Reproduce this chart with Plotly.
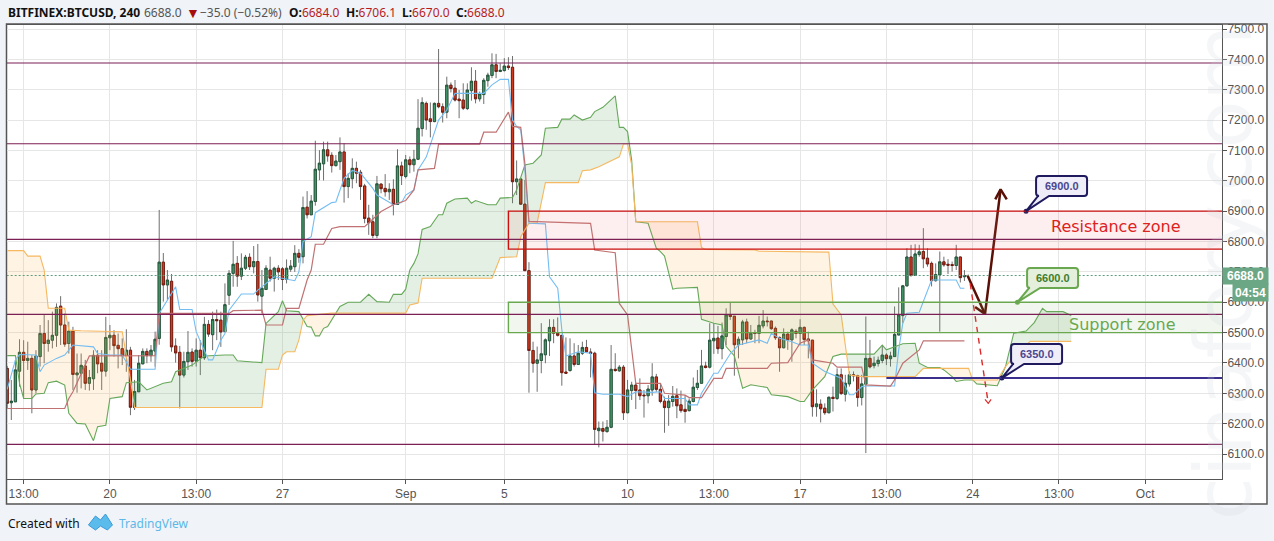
import numpy as np
import plotly.graph_objects as go

# BITFINEX:BTCUSD 4h candles
opens = [6382, 6269, 6272, 6373, 6435, 6408, 6415, 6311, 6421, 6497,
         6464, 6475, 6491, 6587, 6525, 6464, 6505, 6361, 6366, 6390,
         6333, 6348, 6425, 6399, 6373, 6483, 6491, 6458, 6447, 6424,
         6442, 6253, 6305, 6397, 6438, 6424, 6439, 6481, 6732, 6657,
         6669, 6456, 6435, 6360, 6404, 6436, 6406, 6442, 6417, 6527,
         6493, 6543, 6541, 6503, 6623, 6695, 6728, 6686, 6712, 6748,
         6717, 6734, 6620, 6642, 6706, 6679, 6712, 6710, 6675, 6709,
         6717, 6761, 6750, 6913, 6888, 6932, 7036, 7056, 7102, 7084,
         7050, 7063, 7095, 6981, 7007, 7041, 7028, 6983, 6877, 6865,
         6820, 6989, 6975, 6964, 6972, 6922, 7049, 7014, 7069, 7053,
         7071, 7172, 7255, 7204, 7195, 7255, 7244, 7226, 7315, 7305,
         7269, 7266, 7238, 7297, 7328, 7270, 7284, 7330, 7347, 7382,
         7360, 7363, 7378, 7374, 6997, 7006, 6923, 6704, 6441, 6399,
         6408, 6427, 6473, 6517, 6498, 6491, 6370, 6375, 6423, 6395,
         6432, 6451, 6436, 6432, 6177, 6184, 6174, 6188, 6379, 6374,
         6386, 6236, 6309, 6327, 6311, 6294, 6292, 6311, 6354, 6313,
         6274, 6253, 6273, 6292, 6262, 6247, 6243, 6273, 6319, 6333,
         6390, 6386, 6473, 6482, 6447, 6487, 6558, 6554, 6460, 6476,
         6535, 6479, 6499, 6497, 6522, 6538, 6538, 6514, 6484, 6450,
         6495, 6476, 6504, 6497, 6517, 6479, 6475, 6256, 6264, 6251,
         6236, 6287, 6283, 6361, 6297, 6331, 6361, 6358, 6286, 6330,
         6415, 6391, 6398, 6408, 6426, 6414, 6421, 6492, 6556, 6654,
         6749, 6688, 6757, 6767, 6745, 6728, 6671, 6690, 6733, 6725,
         6724, 6721, 6749, 6684]
highs = [6390, 6344, 6410, 6478, 6475, 6470, 6426, 6442, 6525, 6558,
         6541, 6569, 6596, 6620, 6563, 6536, 6519, 6431, 6431, 6410,
         6377, 6442, 6442, 6442, 6552, 6525, 6508, 6497, 6481, 6511,
         6453, 6344, 6426, 6448, 6448, 6459, 6503, 6904, 6762, 6706,
         6693, 6481, 6456, 6437, 6505, 6448, 6481, 6475, 6552, 6541,
         6569, 6576, 6569, 6662, 6706, 6802, 6752, 6761, 6756, 6761,
         6785, 6792, 6706, 6722, 6750, 6717, 6722, 6716, 6741, 6739,
         6788, 6775, 6948, 6966, 6953, 7132, 7101, 7129, 7129, 7094,
         7085, 7143, 7124, 7025, 7074, 7063, 7036, 6990, 6921, 6888,
         7016, 6992, 7022, 6992, 7005, 7104, 7063, 7085, 7080, 7102,
         7269, 7275, 7261, 7258, 7258, 7434, 7255, 7343, 7324, 7332,
         7299, 7321, 7321, 7374, 7365, 7294, 7338, 7356, 7420, 7418,
         7387, 7404, 7407, 7411, 7067, 7006, 7003, 6732, 6470, 6454,
         6531, 6481, 6544, 6544, 6550, 6492, 6484, 6481, 6465, 6459,
         6470, 6476, 6448, 6437, 6207, 6207, 6212, 6459, 6432, 6393,
         6393, 6344, 6338, 6333, 6349, 6311, 6327, 6399, 6364, 6333,
         6289, 6294, 6324, 6316, 6309, 6294, 6283, 6352, 6377, 6443,
         6404, 6531, 6531, 6522, 6533, 6580, 6599, 6554, 6487, 6542,
         6546, 6525, 6509, 6555, 6574, 6553, 6539, 6520, 6487, 6514,
         6503, 6514, 6511, 6544, 6520, 6503, 6476, 6313, 6280, 6267,
         6289, 6322, 6382, 6382, 6361, 6372, 6372, 6361, 6361, 6553,
         6476, 6421, 6421, 6459, 6432, 6437, 6586, 6649, 6657, 6778,
         6789, 6791, 6789, 6844, 6778, 6734, 6728, 6767, 6750, 6742,
         6734, 6789, 6750, 6706]
lows = [6250, 6212, 6272, 6322, 6283, 6377, 6234, 6300, 6388, 6399,
        6437, 6448, 6453, 6459, 6453, 6431, 6311, 6302, 6316, 6311,
        6309, 6311, 6366, 6311, 6355, 6442, 6421, 6382, 6393, 6371,
        6228, 6245, 6305, 6396, 6399, 6404, 6388, 6460, 6602, 6607,
        6437, 6401, 6250, 6352, 6377, 6388, 6388, 6360, 6410, 6486,
        6442, 6475, 6453, 6503, 6591, 6651, 6651, 6673, 6706, 6706,
        6695, 6602, 6563, 6640, 6668, 6635, 6673, 6640, 6662, 6700,
        6700, 6730, 6728, 6876, 6888, 6918, 7002, 7001, 7063, 7027,
        7047, 7036, 6928, 6943, 6975, 6992, 6937, 6860, 6822, 6811,
        6811, 6959, 6948, 6937, 6886, 6921, 6986, 7008, 7025, 7030,
        7069, 7146, 7168, 7143, 7193, 7239, 7192, 7206, 7291, 7261,
        7206, 7233, 7233, 7264, 7255, 7261, 7253, 7310, 7338, 7338,
        7358, 7360, 7365, 6926, 6953, 6921, 6704, 6302, 6368, 6305,
        6366, 6399, 6423, 6465, 6487, 6325, 6364, 6371, 6388, 6393,
        6426, 6435, 6352, 6130, 6122, 6141, 6170, 6185, 6371, 6371,
        6212, 6234, 6278, 6248, 6278, 6220, 6267, 6292, 6305, 6267,
        6170, 6193, 6256, 6218, 6236, 6203, 6240, 6270, 6311, 6331,
        6382, 6382, 6430, 6430, 6412, 6459, 6542, 6358, 6415, 6459,
        6465, 6476, 6465, 6465, 6514, 6520, 6509, 6476, 6371, 6448,
        6443, 6404, 6481, 6459, 6459, 6415, 6223, 6223, 6204, 6229,
        6234, 6240, 6278, 6295, 6273, 6322, 6339, 6256, 6260, 6103,
        6382, 6382, 6388, 6399, 6393, 6388, 6421, 6492, 6531, 6652,
        6684, 6687, 6750, 6712, 6717, 6652, 6668, 6503, 6717, 6693,
        6701, 6706, 6665, 6670]
closes = [6267, 6274, 6377, 6435, 6408, 6415, 6311, 6423, 6497, 6464,
          6475, 6491, 6583, 6525, 6462, 6505, 6362, 6367, 6392, 6333,
          6352, 6425, 6397, 6373, 6484, 6491, 6457, 6447, 6424, 6442,
          6254, 6306, 6399, 6438, 6424, 6442, 6478, 6732, 6657, 6673,
          6453, 6433, 6360, 6405, 6435, 6405, 6442, 6417, 6527, 6495,
          6543, 6539, 6502, 6592, 6695, 6725, 6686, 6712, 6748, 6717,
          6734, 6624, 6646, 6712, 6679, 6712, 6700, 6675, 6712, 6719,
          6761, 6748, 6912, 6888, 6933, 7038, 7058, 7102, 7082, 7050,
          7065, 7095, 6981, 7008, 7041, 7025, 6981, 6876, 6862, 6820,
          6990, 6974, 6964, 6972, 6922, 7049, 7017, 7069, 7053, 7071,
          7173, 7258, 7200, 7195, 7255, 7244, 7226, 7315, 7304, 7266,
          7264, 7239, 7299, 7328, 7270, 7286, 7331, 7348, 7382, 7360,
          7364, 7378, 7373, 6997, 7006, 6923, 6704, 6441, 6399, 6410,
          6430, 6476, 6517, 6498, 6491, 6368, 6366, 6423, 6395, 6432,
          6451, 6437, 6431, 6181, 6185, 6175, 6188, 6379, 6375, 6386,
          6236, 6311, 6327, 6309, 6292, 6292, 6314, 6354, 6313, 6273,
          6253, 6274, 6290, 6259, 6243, 6240, 6274, 6320, 6333, 6390,
          6385, 6475, 6481, 6447, 6489, 6558, 6553, 6460, 6478, 6535,
          6479, 6498, 6497, 6524, 6538, 6536, 6513, 6483, 6450, 6495,
          6476, 6509, 6497, 6517, 6477, 6473, 6256, 6265, 6249, 6236,
          6287, 6283, 6361, 6299, 6333, 6361, 6358, 6286, 6331, 6415,
          6387, 6399, 6409, 6426, 6414, 6423, 6494, 6558, 6654, 6749,
          6688, 6759, 6766, 6743, 6726, 6671, 6691, 6733, 6723, 6722,
          6721, 6749, 6681, 6688]

# Ichimoku lines, vertices as (bar, price)
conv_bars = [0, 2, 3, 7, 8, 9, 12, 14, 16, 21, 22, 25, 28, 30, 36, 37, 41, 42, 45, 46, 49, 50,
             52, 53, 54, 57, 60, 61, 65, 67, 70, 71, 72, 74, 75, 79, 80, 82, 84, 86, 89, 90,
             94, 96, 97, 99, 100, 102, 103, 105, 107, 109, 116, 118, 120, 122, 123, 124, 125,
             126, 127, 131, 132, 134, 135, 136, 139, 142, 143, 145, 149, 151, 153, 157, 159,
             160, 165, 166, 168, 169, 172, 173, 176, 178, 183, 185, 186, 188, 191, 193, 195,
             196, 199, 200, 203, 205, 206, 208, 209, 216, 217, 218, 219, 222, 224, 225, 231,
             232, 233]
conv_vals = [6313, 6410, 6428, 6426, 6371, 6393, 6415, 6426, 6459, 6453, 6431, 6426, 6426, 6379,
             6379, 6563, 6651, 6576, 6576, 6503, 6410, 6410, 6475, 6497, 6574, 6627, 6627, 6640,
             6684, 6679, 6671, 6700, 6800, 6816, 6895, 6928, 6930, 7008, 7034, 7025, 6975, 6953,
             6921, 6928, 6953, 6970, 7036, 7078, 7118, 7200, 7233, 7288, 7288, 7316, 7334, 7334,
             7200, 7179, 7168, 7036, 6860, 6858, 6684, 6646, 6509, 6423, 6437, 6432, 6302, 6297,
             6297, 6289, 6305, 6303, 6305, 6283, 6283, 6262, 6262, 6300, 6366, 6366, 6430, 6459,
             6476, 6465, 6498, 6481, 6470, 6459, 6459, 6399, 6372, 6366, 6350, 6295, 6295, 6322,
             6324, 6324, 6443, 6531, 6564, 6567, 6641, 6673, 6673, 6646, 6646]
base_bars = [0, 14, 15, 16, 20, 36, 37, 54, 55, 62, 63, 67, 68, 71, 73, 74, 75, 77, 79, 81, 87,
             91, 94, 97, 99, 100, 104, 105, 115, 116, 119, 122, 123, 125, 126, 127, 142, 143,
             148, 149, 151, 153, 159, 160, 165, 166, 169, 172, 174, 175, 185, 186, 190, 193,
             195, 196, 201, 202, 208, 209, 215, 216, 218, 220, 222, 223, 233]
base_vals = [6250, 6250, 6283, 6305, 6423, 6424, 6563, 6563, 6572, 6574, 6525, 6525, 6580, 6580,
             6673, 6706, 6791, 6791, 6843, 6849, 6849, 6899, 6921, 6935, 6970, 7036, 7041, 7121,
             7121, 7160, 7160, 7226, 7179, 7176, 7058, 6866, 6860, 6772, 6763, 6596, 6558, 6333,
             6333, 6300, 6294, 6286, 6286, 6349, 6349, 6382, 6382, 6399, 6401, 6465, 6476, 6410,
             6399, 6386, 6386, 6328, 6324, 6344, 6399, 6421, 6443, 6473, 6473]
span_a_bars = [0, 2, 3, 4, 6, 7, 9, 10, 12, 14, 15, 17, 19, 21, 22, 24, 25, 28, 29, 32, 34, 38,
               40, 41, 45, 48, 53, 55, 56, 62, 63, 66, 67, 68, 71, 72, 73, 74, 75, 76, 77, 78,
               81, 83, 86, 88, 90, 93, 94, 96, 97, 98, 99, 100, 101, 103, 105, 106, 107, 109,
               112, 113, 114, 117, 119, 120, 123, 124, 126, 128, 130, 131, 134, 135, 137, 138,
               140, 142, 143, 145, 147, 148, 149, 150, 151, 152, 153, 156, 158, 159, 160, 162,
               163, 168, 169, 172, 174, 175, 177, 179, 181, 185, 186, 190, 193, 194, 196, 199,
               201, 203, 211, 213, 214, 218, 221, 222, 224, 227, 228, 230, 231, 233, 235, 236,
               241, 242, 243, 245, 248, 250, 252, 253, 257, 259]
span_a_vals = [6424, 6424, 6333, 6283, 6283, 6298, 6300, 6335, 6340, 6327, 6234, 6201, 6199, 6144,
               6190, 6195, 6283, 6289, 6335, 6338, 6311, 6333, 6338, 6371, 6393, 6423, 6426, 6426,
               6407, 6401, 6530, 6569, 6605, 6572, 6569, 6542, 6520, 6518, 6489, 6489, 6514, 6520,
               6586, 6600, 6600, 6626, 6602, 6600, 6626, 6626, 6643, 6706, 6728, 6759, 6840, 6849,
               6888, 6888, 6926, 6940, 6943, 6926, 6935, 6921, 6921, 6943, 6945, 6970, 7052, 7058,
               7085, 7173, 7176, 7203, 7203, 7217, 7200, 7209, 7228, 7242, 7266, 7280, 7176, 7176,
               7162, 7068, 6865, 6860, 6778, 6767, 6752, 6643, 6646, 6649, 6544, 6531, 6525, 6454,
               6423, 6317, 6328, 6319, 6295, 6289, 6273, 6273, 6311, 6355, 6421, 6429, 6429, 6459,
               6443, 6463, 6465, 6399, 6385, 6385, 6377, 6355, 6339, 6344, 6344, 6331, 6325, 6355,
               6388, 6498, 6505, 6533, 6580, 6569, 6569, 6556]
span_b_bars = [0, 4, 5, 8, 9, 10, 14, 15, 18, 28, 30, 31, 62, 63, 66, 67, 68, 70, 71, 72, 73, 79,
               97, 98, 100, 101, 118, 119, 120, 124, 125, 127, 129, 131, 139, 140, 142, 144, 147,
               149, 150, 151, 152, 153, 168, 169, 170, 182, 183, 197, 200, 201, 203, 205, 208,
               221, 223, 234, 235, 241, 243, 245, 247, 249, 259]
span_b_vals = [6770, 6770, 6752, 6752, 6706, 6580, 6580, 6508, 6506, 6503, 6344, 6253, 6253, 6379,
               6379, 6426, 6437, 6437, 6476, 6540, 6556, 6564, 6564, 6591, 6597, 6679, 6679, 6712,
               6747, 6750, 6816, 6860, 6862, 6994, 6994, 7033, 7036, 7046, 7065, 7079, 7121, 7121,
               7052, 6865, 6865, 6780, 6774, 6772, 6768, 6767, 6765, 6594, 6558, 6360, 6355, 6355,
               6382, 6382, 6344, 6344, 6388, 6421, 6446, 6471, 6471]

tick_bars = [4, 25, 46, 67, 97, 121, 151, 172, 193, 214, 235, 256, 277]
tick_text = ["13:00", "20", "13:00", "27", "Sep", "5", "10", "13:00", "17", "13:00", "24", "13:00", "Oct"]
price_ticks = [6100, 6200, 6300, 6400, 6500, 6600, 6700, 6800, 6900, 7000, 7100, 7200, 7300, 7400, 7500]

level_prices = [7388, 7122, 6807, 6560, 6132]
resistance_zone = [6775, 6900]
support_zone = [6500, 6600]
zone_start_bar = 122
last_price = 6688
blue_level = 6350
blue_level_start = 214

# drawn arrows (bar, price)
up_arrow_bars = [233.7, 238, 235.6, None, 238, 241.8, None, 240.5, 241.8, 243.3]
up_arrow_vals = [6690, 6561, 6584, None, 6561, 6972, None, 6939, 6972, 6939]
down_arrow_bars = [234.4, 238.8]
down_arrow_vals = [6662, 6267]
down_head_bars = [238, 238.8, 239.5]
down_head_vals = [6280, 6267, 6280]

# callouts: bar, price, text, box in pixels
callouts = [
    (248, 6900, "6900.0", (1036, 176, 1087, 196), "#1f1a5e", "#efeef8", "#4b478f"),
    (245.9, 6600, "6600.0", (1027, 268, 1078, 288), "#6aa84f", "#e4efdc", "#3f7d2e"),
    (242.1, 6350, "6350.0", (1011, 344, 1062, 364), "#1f1a5e", "#efeef8", "#4b478f"),
]

# header pieces and where they start, in pixels
header_parts = [
    (5, "<b>BITFINEX:BTCUSD, 240</b>", "#111", 12),
    (142, "6688.0", "#555", 12),
    (184, "▼", "#a50d0d", 14),
    (198, "−35.0 (−0.52%)", "#555", 12),
    (287, "<b>O:</b><span style='color:#b71c1c'>6684.0</span>", "#111", 12),
    (344, "<b>H:</b><span style='color:#b71c1c'>6706.1</span>", "#111", 12),
    (400, "<b>L:</b><span style='color:#b71c1c'>6670.0</span>", "#111", 12),
    (454, "<b>C:</b><span style='color:#b71c1c'>6688.0</span>", "#111", 12),
]

PANE_L, PANE_R, PANE_T, PANE_B = 6.5, 1222, 25, 479
BAR0, BAR_W = 6.7, 4.11
PRICE_PER_PX = 3.294


def bar_at(px):
    return (px - BAR0) / BAR_W


def price_at(py):
    return 7500 - (py - 29) * PRICE_PER_PX


def paper_x(px):
    return (px - PANE_L) / (PANE_R - PANE_L)


def paper_y(py):
    return (PANE_B - py) / (PANE_B - PANE_T)


def page_text(px, py, text, size, colour, family="Noto Sans", **kw):
    # text placed by page pixels, anchors pinned so plotly doesn't shift it
    opts = dict(xanchor="left", yanchor="middle", showarrow=False)
    opts.update(kw)
    return dict(x=paper_x(px), y=paper_y(py), xref="paper", yref="paper", text=text,
                font=dict(family=family, size=size, color=colour), **opts)


bars = np.arange(len(opens))
body_hi = np.maximum(opens, closes)
body_lo = np.minimum(opens, closes)

fig = go.Figure()

# cloud fill between the two spans, on a shared grid
grid = np.arange(0, 259.25, 0.25)
a_line = np.interp(grid, span_a_bars, span_a_vals)
b_line = np.interp(grid, span_b_bars, span_b_vals)
top_line = np.maximum(a_line, b_line)
for low_line, colour in [(b_line, "rgba(96,160,84,0.16)"), (a_line, "rgba(255,170,60,0.14)")]:
    fig.add_trace(go.Scatter(x=grid, y=low_line, mode="lines", line_width=0, hoverinfo="skip"))
    fig.add_trace(go.Scatter(x=grid, y=top_line, mode="lines", line_width=0, fill="tonexty",
                             fillcolor=colour, hoverinfo="skip"))

fig.add_trace(go.Scatter(x=span_a_bars, y=span_a_vals, mode="lines", line=dict(color="#66a85a", width=1.1)))
fig.add_trace(go.Scatter(x=span_b_bars, y=span_b_vals, mode="lines", line=dict(color="#f6b860", width=1.1)))
fig.add_trace(go.Scatter(x=conv_bars, y=conv_vals, mode="lines", line=dict(color="#74bdf2", width=1.1)))
fig.add_trace(go.Scatter(x=base_bars, y=base_vals, mode="lines", line=dict(color="#c07272", width=1.2)))

# wicks first in grey, then bodies with a dark edge
wick = dict(line=dict(color="#6f6f6f", width=1), fillcolor="#6f6f6f")
fig.add_trace(go.Candlestick(x=bars, open=opens, high=highs, low=lows, close=closes,
                             increasing=wick, decreasing=wick, whiskerwidth=0))
fig.add_trace(go.Candlestick(x=bars, open=opens, high=body_hi, low=body_lo, close=closes,
                             increasing=dict(line=dict(color="#1d4f33", width=0.8), fillcolor="#459a6c"),
                             decreasing=dict(line=dict(color="#6e1408", width=0.8), fillcolor="#d23a22")))

fig.add_trace(go.Scatter(x=up_arrow_bars, y=up_arrow_vals, mode="lines", connectgaps=False,
                         line=dict(color="#5a1006", width=2.5)))
fig.add_trace(go.Scatter(x=down_arrow_bars, y=down_arrow_vals, mode="lines",
                         line=dict(color="#dd2a2a", width=1.4, dash="6px,5px")))
fig.add_trace(go.Scatter(x=down_head_bars, y=down_head_vals, mode="lines",
                         line=dict(color="#dd2a2a", width=1.2)))

shapes = []
# zones
shapes.append(dict(type="rect", xref="x", yref="y", x0=zone_start_bar, x1=400,
                   y0=resistance_zone[0], y1=resistance_zone[1],
                   fillcolor="rgba(240,110,110,0.11)", line=dict(color="#cc0f0f", width=1.4)))
shapes.append(dict(type="rect", xref="x", yref="y", x0=zone_start_bar, x1=400,
                   y0=support_zone[0], y1=support_zone[1],
                   fillcolor="rgba(120,180,100,0.1)", line=dict(color="#6aa84f", width=1.4)))
for price in level_prices:
    shapes.append(dict(type="line", xref="x", yref="y", x0=-5, x1=400, y0=price, y1=price,
                       line=dict(color="#7c1f55", width=1.2)))
shapes.append(dict(type="line", xref="x", yref="y", x0=-5, x1=400, y0=last_price, y1=last_price,
                   line=dict(color="#5f9c7e", width=1, dash="2px,2px")))
shapes.append(dict(type="line", xref="x", yref="y", x0=blue_level_start, x1=400, y0=blue_level, y1=blue_level,
                   line=dict(color="#3a2f8c", width=2)))

annotations = []
for bar, price, label, box, edge, face, ink in callouts:
    x0, y0, x1, y1 = box
    r = 3
    pts = [("M", x0 + r, y0), ("L", x1 - r, y0), ("Q", x1, y0, x1, y0 + r), ("L", x1, y1 - r),
           ("Q", x1, y1, x1 - r, y1), ("L", x0 + 13, y1), ("T", None), ("L", x0 + 2, y1),
           ("L", x0 + r, y1), ("Q", x0, y1, x0, y1 - r), ("L", x0, y0 + r), ("Q", x0, y0, x0 + r, y0)]
    path = ""
    for p in pts:
        if p[0] == "T":
            path += f" L{bar},{price}"
        elif p[0] == "Q":
            path += f" Q{bar_at(p[1])},{price_at(p[2])} {bar_at(p[3])},{price_at(p[4])}"
        else:
            path += f" {p[0]}{bar_at(p[1])},{price_at(p[2])}"
    shapes.append(dict(type="path", xref="x", yref="y", path=path + " Z", fillcolor=face,
                       line=dict(color=edge, width=2)))
    annotations.append(dict(x=bar_at((x0 + x1) / 2), y=price_at((y0 + y1) / 2), xref="x", yref="y",
                            text=label, showarrow=False,
                            font=dict(family="Liberation Sans", size=11, color=ink, weight="bold")))
    fig.add_trace(go.Scatter(x=[bar], y=[price], mode="markers", marker=dict(color=edge, size=5)))

annotations.append(dict(x=bar_at(1115), y=price_at(226), xref="x", yref="y", text="Resistance zone",
                        showarrow=False, font=dict(family="DejaVu Sans", size=16, color="#dd2222")))
annotations.append(dict(x=bar_at(1122), y=price_at(324), xref="x", yref="y", text="Support zone",
                        showarrow=False, font=dict(family="DejaVu Sans", size=16, color="#6aa84f")))

# header, footer, watermark
for px, text, colour, size in header_parts:
    annotations.append(page_text(px, 12, text, size, colour))
annotations.append(page_text(5, 523, "Created with", 12, "#111"))
annotations.append(page_text(117, 523, "TradingView", 12, "#5bb8e8"))
annotations.append(page_text(1224, 272, "cinafory.com", 78, "rgba(205,212,220,0.2)", family="DejaVu Sans",
                             xanchor="center", textangle=-90))

# last price tags on the axis
annotations.append(dict(x=1, y=last_price, xref="paper", yref="y", xanchor="left", yanchor="middle",
                        text="<b>6688.0</b>", showarrow=False, bgcolor="#6ca785", width=45, height=16,
                        borderpad=0, font=dict(family="Liberation Sans", size=12, color="white")))
annotations.append(page_text(1232, 293, "<b>04:54</b>", 12, "white", family="Liberation Sans",
                             bgcolor="#6ca785", width=35, height=17, borderpad=0))

# white card behind the pane and axes
shapes.insert(0, dict(type="rect", xref="paper", yref="paper", layer="below",
                      x0=paper_x(6), x1=paper_x(1267), y0=paper_y(504), y1=paper_y(24),
                      fillcolor="white", line=dict(color="#555555", width=1.5)))
# TradingView logo
logo = [(88, 525), (95, 516), (100, 520), (105, 514), (112, 525), (107, 530), (100, 526), (95, 530)]
logo_path = "M" + " L".join(f"{paper_x(a)},{paper_y(b)}" for a, b in logo) + " Z"
shapes.append(dict(type="path", xref="paper", yref="paper", path=logo_path, fillcolor="#5bbcec",
                   line=dict(color="#3a9ad9", width=1)))

fig.update_layout(
    width=1274, height=541,
    margin=dict(l=PANE_L, r=1274 - PANE_R, t=PANE_T, b=541 - PANE_B, pad=0),
    paper_bgcolor="#f0f3f7", plot_bgcolor="white",
    showlegend=False, boxgap=0.22, shapes=shapes, annotations=annotations,
    font=dict(family="Liberation Sans", size=12, color="#555"),
    xaxis=dict(range=[bar_at(PANE_L), bar_at(PANE_R)], rangeslider=dict(visible=False),
               tickmode="array", tickvals=tick_bars, ticktext=tick_text, ticks="outside", ticklen=4,
               tickcolor="#555", gridcolor="#e6e6e6", gridwidth=1, zeroline=False,
               showline=True, mirror=True, linecolor="#555", linewidth=1),
    yaxis=dict(range=[price_at(PANE_B), price_at(PANE_T)], side="right", tickmode="array",
               tickvals=price_ticks, tickformat=".1f", ticks="outside", ticklen=4, tickcolor="#555",
               ticklabelstandoff=-2, gridcolor="#e6e6e6", gridwidth=1, zeroline=False,
               showline=True, mirror=True, linecolor="#555", linewidth=1),
)

fig.write_html("out.html", config={"displayModeBar": False},
               post_script="document.body.style.margin='0';document.body.style.overflow='hidden';")
